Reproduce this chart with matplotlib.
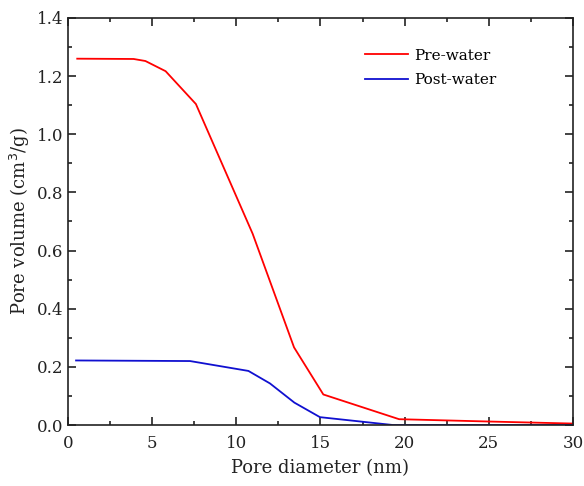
import matplotlib
matplotlib.use("Agg")
import matplotlib.pyplot as plt
from matplotlib.ticker import MultipleLocator

# Pore size distribution before and after water exposure
pre_d = [0.55, 3.9, 4.6, 5.8, 7.6, 10.97, 13.43, 15.17, 19.67, 25.0, 30.0]
pre_v = [1.260, 1.259, 1.252, 1.217, 1.104, 0.658, 0.267, 0.105, 0.020, 0.012, 0.005]

post_d = [0.48, 7.25, 10.72, 12.0, 13.45, 14.97, 19.3, 25.0, 30.0]
post_v = [0.222, 0.220, 0.186, 0.143, 0.077, 0.027, 0.0, 0.0, 0.0]

plt.rcParams["font.family"] = ["DejaVu Serif"]
plt.rcParams["font.size"] = 12

fig = plt.figure(figsize=(5.84, 4.86), dpi=100)
ax = fig.add_axes([0.1164, 0.1255, 0.8647, 0.8375])

ax.plot(pre_d, pre_v, color="#ff0000", lw=1.3, label="Pre-water")
ax.plot(post_d, post_v, color="#1010d0", lw=1.3, label="Post-water")

ax.set_xlim(0, 30)
ax.set_ylim(0, 1.4)
ax.xaxis.set_major_locator(MultipleLocator(5))
ax.xaxis.set_minor_locator(MultipleLocator(2.5))
ax.yaxis.set_major_locator(MultipleLocator(0.2))
ax.yaxis.set_minor_locator(MultipleLocator(0.1))
ax.yaxis.set_major_formatter(plt.FormatStrFormatter("%.1f"))
ax.tick_params(which="both", direction="in", top=True, right=True, width=1.2,
               colors="#222222", labelcolor="#222222")
ax.tick_params(which="major", length=6, labelsize=12)
ax.tick_params(axis="x", which="major", pad=7)
ax.tick_params(which="minor", length=3)
for s in ax.spines.values():
    s.set_linewidth(1.2)
    s.set_color("#222222")

ax.set_xlabel("Pore diameter (nm)", fontsize=13, labelpad=5, color="#222222")
ax.set_ylabel("Pore volume (cm$^3$/g)", fontsize=13, labelpad=3, color="#222222")

ax.legend(loc="center left", bbox_to_anchor=(0.588, 0.877), frameon=False,
          fontsize=11, handlelength=2.8, handletextpad=0.4, labelspacing=0.7,
          borderpad=0, borderaxespad=0)

fig.savefig("out.png", dpi=100)
